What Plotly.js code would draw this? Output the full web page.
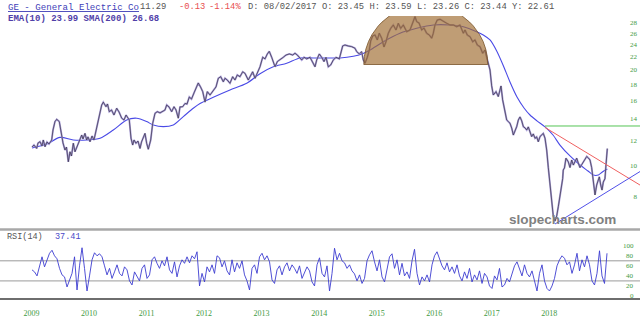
<!DOCTYPE html>
<html>
<head>
<meta charset="utf-8">
<script src="https://cdn.plot.ly/plotly-3.0.1.min.js"></script>
<style>
  html, body { margin: 0; padding: 0; background: #ffffff; }
  #chart { width: 640px; height: 322px; }
</style>
</head>
<body>
<div id="chart"></div>
<script>
// ---------------- DATA ----------------
const priceYears = [
  2009.009,2009.043,2009.090,2009.113,2009.148,2009.183,2009.205,2009.235,2009.269,2009.304,
  2009.351,2009.374,2009.408,2009.438,2009.483,2009.525,2009.548,2009.582,2009.608,2009.640,
  2009.669,2009.695,2009.727,2009.756,2009.782,2009.813,2009.843,2009.873,2009.895,2009.930,
  2009.959,2009.982,2010.017,2010.052,2010.086,2010.133,2010.178,2010.220,2010.248,2010.295,
  2010.321,2010.352,2010.391,2010.434,2010.481,2010.521,2010.568,2010.608,2010.643,2010.669,
  2010.700,2010.730,2010.759,2010.782,2010.816,2010.851,2010.886,2010.912,2010.943,2010.973,
  2011.002,2011.030,2011.072,2011.107,2011.147,2011.187,2011.234,2011.280,2011.320,2011.350,
  2011.390,2011.437,2011.477,2011.512,2011.552,2011.581,2011.628,2011.668,2011.703,2011.743,
  2011.781,2011.825,2011.859,2011.899,
  2011.938,2011.976,2012.016,2012.056,2012.103,2012.160,2012.207,2012.247,2012.289,2012.334,
  2012.363,2012.403,2012.450,2012.497,2012.537,2012.577,2012.624,2012.671,2012.711,2012.768,
  2012.810,2012.845,2012.885,2012.925,2012.972,2013.019,2013.059,2013.099,2013.133,2013.175,
  2013.203,2013.233,2013.273,2013.319,2013.377,2013.424,2013.481,2013.540,2013.580,2013.620,
  2013.667,2013.697,2013.737,2013.784,2013.841,2013.898,2013.928,2013.957,2014.003,2014.044,
  2014.084,2014.119,2014.159,2014.201,2014.246,2014.293,2014.350,2014.409,2014.449,2014.507,
  2014.566,2014.623,2014.653,2014.698,2014.739,
  2014.767,2014.797,2014.837,2014.872,2014.896,2014.931,2014.971,2015.011,2015.045,2015.087,
  2015.127,2015.162,2015.202,2015.244,2015.289,2015.336,2015.376,2015.417,2015.463,2015.522,
  2015.579,2015.626,2015.666,2015.696,2015.736,2015.782,2015.822,2015.869,2015.914,2015.956,
  2015.984,2016.013,2016.053,2016.101,2016.158,2016.217,2016.274,2016.332,2016.391,2016.448,
  2016.506,2016.535,2016.575,2016.622,2016.669,2016.709,2016.749,2016.796,2016.843,2016.883,
  2016.912,2016.940,2016.970,
  2016.999,2017.027,2017.074,2017.114,2017.143,2017.161,2017.190,2017.230,2017.260,2017.288,
  2017.317,2017.347,2017.375,2017.404,2017.434,2017.462,2017.491,2017.521,2017.549,2017.578,
  2017.608,2017.635,2017.665,2017.694,2017.722,2017.752,2017.781,2017.809,2017.839,2017.868,
  2017.896,2017.926,2017.955,2017.983,2018.013,2018.042,2018.070,2018.100,2018.129,2018.157,
  2018.186,2018.216,2018.233,2018.243,2018.264,2018.290,2018.330,2018.360,2018.390,2018.418,
  2018.447,2018.477,2018.505,2018.534,2018.564,2018.591,2018.621,2018.651,2018.679,2018.708,
  2018.737,2018.765,2018.795,2018.824,2018.853,2018.870,2018.894,2018.917,2018.939,2018.968,
  2018.988,2019.009
];
const priceValues = [
  11.43,11.60,11.32,11.77,11.88,11.52,12.03,11.46,11.86,11.68,
  12.03,12.93,13.74,13.97,13.74,12.18,11.77,11.19,11.43,10.28,
  11.05,10.72,11.75,11.05,11.35,11.60,12.03,12.47,12.12,12.62,
  12.03,12.30,11.88,12.38,12.03,13.25,14.24,15.49,15.81,15.30,
  15.60,14.76,14.94,14.41,15.13,14.73,14.08,13.90,14.41,14.11,
  13.90,12.18,11.60,12.03,11.75,11.94,11.32,11.86,12.18,12.62,
  11.75,11.25,12.03,13.58,14.59,14.76,14.63,14.76,14.94,15.49,
  15.27,14.76,15.30,14.94,14.08,15.27,15.30,15.66,15.60,16.41,
  16.17,16.90,17.52,18.16,
  17.65,17.06,15.81,17.06,16.65,17.26,17.65,18.78,19.00,18.32,
  18.78,18.55,18.12,19.00,18.55,19.24,19.00,19.69,19.47,18.55,
  19.24,19.69,18.78,19.47,20.41,21.86,21.61,22.39,22.82,21.86,
  20.94,20.41,21.19,21.44,21.86,22.22,22.39,22.22,22.50,22.22,
  21.82,21.44,21.86,21.61,21.86,20.94,20.41,21.44,22.39,21.86,
  21.19,21.86,20.41,20.68,21.44,21.86,21.61,23.72,23.89,23.72,
  23.60,23.33,22.77,22.39,22.77,
  21.44,20.94,21.86,23.04,24.60,25.49,25.68,24.77,26.00,25.08,
  23.55,24.46,26.00,26.94,27.60,26.62,27.94,26.94,27.60,26.30,
  26.62,27.94,29.31,28.26,28.00,26.62,27.00,26.00,25.68,25.08,
  26.00,27.60,28.61,28.76,28.26,27.94,27.60,27.60,27.26,27.60,
  26.00,26.62,25.68,25.37,24.46,24.77,23.89,23.60,22.50,23.04,
  21.86,21.04,19.94,
  17.77,16.65,17.06,16.46,17.26,17.77,16.06,14.94,13.90,13.74,
  13.58,13.11,12.47,12.84,13.25,13.90,14.21,13.81,13.25,13.13,
  12.93,13.22,12.78,12.33,12.57,12.18,12.30,11.88,12.33,12.47,
  12.62,12.18,11.19,9.86,8.58,7.61,6.93,6.70,6.95,7.43,
  7.99,8.48,9.10,9.69,9.83,10.55,10.28,9.86,10.41,10.04,
  10.26,10.55,10.17,9.86,10.07,10.28,10.55,10.68,10.57,10.41,
  9.86,8.79,8.09,8.69,9.01,9.22,8.69,8.38,8.88,9.10,
  10.17,11.31
];

const smaYears = [
  2009.009,2009.264,2009.495,2009.727,2009.959,2010.191,2010.422,2010.655,2010.829,2011.002,
  2011.117,2011.291,2011.465,2011.639,2011.812,2011.929,2012.160,2012.450,2012.741,2012.972,
  2013.203,2013.436,2013.667,2013.898,2014.131,2014.362,2014.594,2014.745,2014.884,2015.115,
  2015.405,2015.696,2015.984,2016.274,2016.506,2016.738,2016.853,2016.970,2017.086,2017.196,
  2017.317,2017.439,2017.561,2017.665,2017.787,2017.926,2018.065,2018.186,2018.360,2018.534,
  2018.673,2018.765,2018.853,2018.922,2019.009
];
const smaValues = [
  11.35,11.68,12.26,12.03,12.03,12.18,12.93,13.90,14.08,13.74,
  13.41,13.25,13.41,14.24,15.13,15.66,16.38,17.26,18.12,19.42,
  20.41,20.94,21.75,21.75,21.75,21.75,22.01,22.39,23.04,24.46,
  26.00,26.94,27.60,27.60,27.26,26.30,25.68,24.77,22.88,20.68,
  18.29,16.41,15.16,14.41,13.81,13.22,12.47,11.60,10.72,10.04,
  9.62,9.34,9.34,9.55,9.76
];

const rsiStartYear = 2009.009;
const rsiStepYears = 0.043455;
const rsiValues = [
  52,48,40,62,78,58,72,85,91,80,74,55,42,38,18,30,45,78,12,60,
  96,55,10,40,72,86,80,84,78,60,42,55,35,48,62,45,40,58,52,30,
  22,48,38,30,55,62,35,42,72,78,65,55,70,60,78,52,45,68,38,60,
  72,65,78,66,80,74,88,20,45,28,58,48,62,45,80,76,58,70,50,42,
  72,48,66,55,70,42,30,12,55,62,45,78,85,72,80,68,32,25,52,60,
  42,58,66,50,62,55,45,60,35,48,58,50,28,20,62,76,45,38,60,10,
  45,95,72,85,70,66,55,62,50,44,30,42,25,35,70,82,90,68,50,72,
  38,28,55,78,84,55,72,42,65,40,48,35,70,93,45,22,38,30,42,28,
  62,80,88,72,60,52,66,48,58,45,62,40,30,48,35,55,28,42,32,50,
  25,45,38,20,15,40,32,55,18,22,35,28,42,60,68,52,40,62,45,38,
  50,30,10,45,62,30,15,10,20,35,60,72,80,75,62,68,45,62,85,50,
  72,58,80,62,30,22,45,90,40,25,85
];

// Drawn annotations
const domeYears = [2014.776,2014.785,2014.813,2014.858,2014.920,2014.971,2015.028,2015.092,2015.160,2015.221,2015.283,
                   2016.424,2016.486,2016.547,2016.615,2016.679,2016.737,2016.787,2016.850,2016.895,2016.923,2016.931,2014.776];
const domeValues = [20.75,21.95,23.21,24.50,25.77,26.60,27.42,28.18,28.93,29.45,29.96,
                    29.96,29.45,28.93,28.18,27.42,26.60,25.77,24.50,23.21,21.95,20.75,20.75];
const resistYears = [2017.926, 2019.6];
const resistValues = [13.31, 13.31];
const downTrendYears = [2017.926, 2019.577];
const downTrendValues = [13.17, 8.69];
const upTrendYears = [2018.100, 2019.577];
const upTrendValues = [6.56, 9.58];

const rsiLevels = [30, 70];
const yearTicks = [2009,2010,2011,2012,2013,2014,2015,2016,2017,2018];
const priceTicks = [8,10,12,14,16,18,20,22,24,26,28];
const rsiTicks = [0,20,40,60,80,100];

const headerName = 'GE - General Electric Co';
const headerLast = '11.29';
const headerChange = '-0.13';
const headerPct = '-1.14%';
const headerOHLC = 'D: 08/02/2017 O: 23.45 H: 23.59 L: 23.26 C: 23.44 Y: 22.61';
const headerIndicators = 'EMA(10) 23.99 SMA(200) 26.68';
const rsiLabel = 'RSI(14)';
const rsiLast = '37.41';
const watermark = 'slopecharts.com';

// ---------------- CHART ----------------
const rsiYears = rsiValues.map((_, i) => rsiStartYear + i * rsiStepYears);

// pixel helpers for annotation placement (paper coords)
const W = 640, H = 322, MT = 16, MB = 19;
const PH = H - MT - MB;
const px = x => x / W;
const py = y => (H - MB - y) / PH;

const traces = [
  { x: smaYears, y: smaValues, type: 'scatter', mode: 'lines', line: {color: '#4a4ae6', width: 1.1, shape: 'spline', smoothing: 0.8}, xaxis: 'x', yaxis: 'y', hoverinfo: 'skip' },
  { x: priceYears, y: priceValues, type: 'scatter', mode: 'lines', line: {color: 'rgba(160,148,212,0.9)', width: 1.9}, xaxis: 'x', yaxis: 'y', hoverinfo: 'skip' },
  { x: priceYears, y: priceValues, type: 'scatter', mode: 'lines', line: {color: '#3a3446', width: 0.7}, xaxis: 'x', yaxis: 'y', hoverinfo: 'skip' },
  { x: resistYears, y: resistValues, type: 'scatter', mode: 'lines', line: {color: '#55c455', width: 1}, xaxis: 'x', yaxis: 'y', hoverinfo: 'skip' },
  { x: downTrendYears, y: downTrendValues, type: 'scatter', mode: 'lines', line: {color: '#f06060', width: 1}, xaxis: 'x', yaxis: 'y', hoverinfo: 'skip' },
  { x: upTrendYears, y: upTrendValues, type: 'scatter', mode: 'lines', line: {color: '#5050e8', width: 1}, xaxis: 'x', yaxis: 'y', hoverinfo: 'skip' },
  { x: domeYears, y: domeValues, type: 'scatter', mode: 'lines', fill: 'toself', fillcolor: 'rgba(160,110,52,0.68)', line: {color: 'rgba(120,82,40,0.8)', width: 1}, xaxis: 'x', yaxis: 'y', hoverinfo: 'skip' },
  { x: rsiYears, y: rsiValues, type: 'scatter', mode: 'lines', line: {color: '#3c3cd0', width: 0.9}, xaxis: 'x', yaxis: 'y2', hoverinfo: 'skip' }
];

const monoFont = 'Liberation Mono, Courier New, monospace';
const tickFont = {family: 'Liberation Serif, Times New Roman, serif', size: 7, color: '#3f9a3f'};

const annotations = [
  {text: '<u>' + headerName + '</u>', x: px(6), y: py(7), font: {family: monoFont, size: 9.1, color: '#4040b8'}},
  {text: headerLast, x: px(138), y: py(7), font: {family: monoFont, size: 8.8, color: '#555555'}},
  {text: headerChange, x: px(177), y: py(7), font: {family: monoFont, size: 8.8, color: '#e85050'}},
  {text: headerPct, x: px(207), y: py(7), font: {family: monoFont, size: 8.8, color: '#e85050'}},
  {text: headerOHLC, x: px(246), y: py(7), font: {family: monoFont, size: 8.8, color: '#555555'}},
  {text: '<b>' + headerIndicators + '</b>', x: px(6), y: py(19), font: {family: monoFont, size: 9, color: '#5040a8'}},
  {text: rsiLabel, x: px(5), y: py(237), font: {family: monoFont, size: 8.5, color: '#555555'}},
  {text: rsiLast, x: px(53), y: py(237), font: {family: monoFont, size: 8.5, color: '#4848c8'}},
  {text: '<b>' + watermark + '</b>', x: px(507), y: py(219), font: {family: 'Liberation Sans, Arial, sans-serif', size: 13.5, color: '#808080'}}
].map(a => Object.assign({xref: 'paper', yref: 'paper', xanchor: 'left', yanchor: 'middle', showarrow: false}, a));

// RSI axis labels, placed at their values on the RSI axis
rsiTicks.forEach(v => annotations.push({
  text: String(v), xref: 'paper', x: 1, xanchor: 'right', xshift: -4,
  yref: 'y2', y: v, yanchor: 'middle', showarrow: false, font: tickFont
}));

const shapes = [
  // RSI reference levels
  ...rsiLevels.map(v => ({type: 'line', xref: 'paper', x0: 0, x1: 1, yref: 'y2', y0: v, y1: v, line: {color: '#9a9a9a', width: 1}, layer: 'below'})),
  // pane separators
  {type: 'line', xref: 'paper', x0: 0, x1: 1, yref: 'paper', y0: py(229.5), y1: py(229.5), line: {color: '#a8a8a8', width: 2.5}},
  {type: 'line', xref: 'paper', x0: 0, x1: 1, yref: 'paper', y0: py(299), y1: py(299), line: {color: '#6e6e6e', width: 2}}
];

const layout = {
  width: W, height: H,
  margin: {l: 0, r: 0, t: MT, b: MB, pad: 0},
  paper_bgcolor: '#ffffff', plot_bgcolor: '#ffffff',
  showlegend: false,
  xaxis: {
    type: 'linear', range: [2008.4525, 2019.577], anchor: 'y2',
    tickmode: 'array', tickvals: yearTicks, tickformat: 'd',
    showgrid: false, zeroline: false, showline: false, ticks: '',
    ticklabelstandoff: 4,
    tickfont: {family: 'Liberation Serif, Times New Roman, serif', size: 8, color: '#3f9a3f'},
    fixedrange: true
  },
  yaxis: {
    type: 'log', domain: [py(229), 1], range: [0.80118, 1.46909],
    side: 'right', ticklabelposition: 'inside', anchor: 'x',
    tickmode: 'array', tickvals: priceTicks, ticktext: priceTicks.map(String),
    showgrid: false, zeroline: false, showline: false, ticks: '',
    tickfont: tickFont, fixedrange: true
  },
  yaxis2: {
    domain: [0, py(231)], range: [-13.93, 129.35],
    side: 'right', anchor: 'x', showticklabels: false,
    showgrid: false, zeroline: false, showline: false, ticks: '',
    fixedrange: true
  },
  annotations: annotations,
  shapes: shapes
};

Plotly.newPlot('chart', traces, layout, {staticPlot: true, displayModeBar: false});
</script>
</body>
</html>
